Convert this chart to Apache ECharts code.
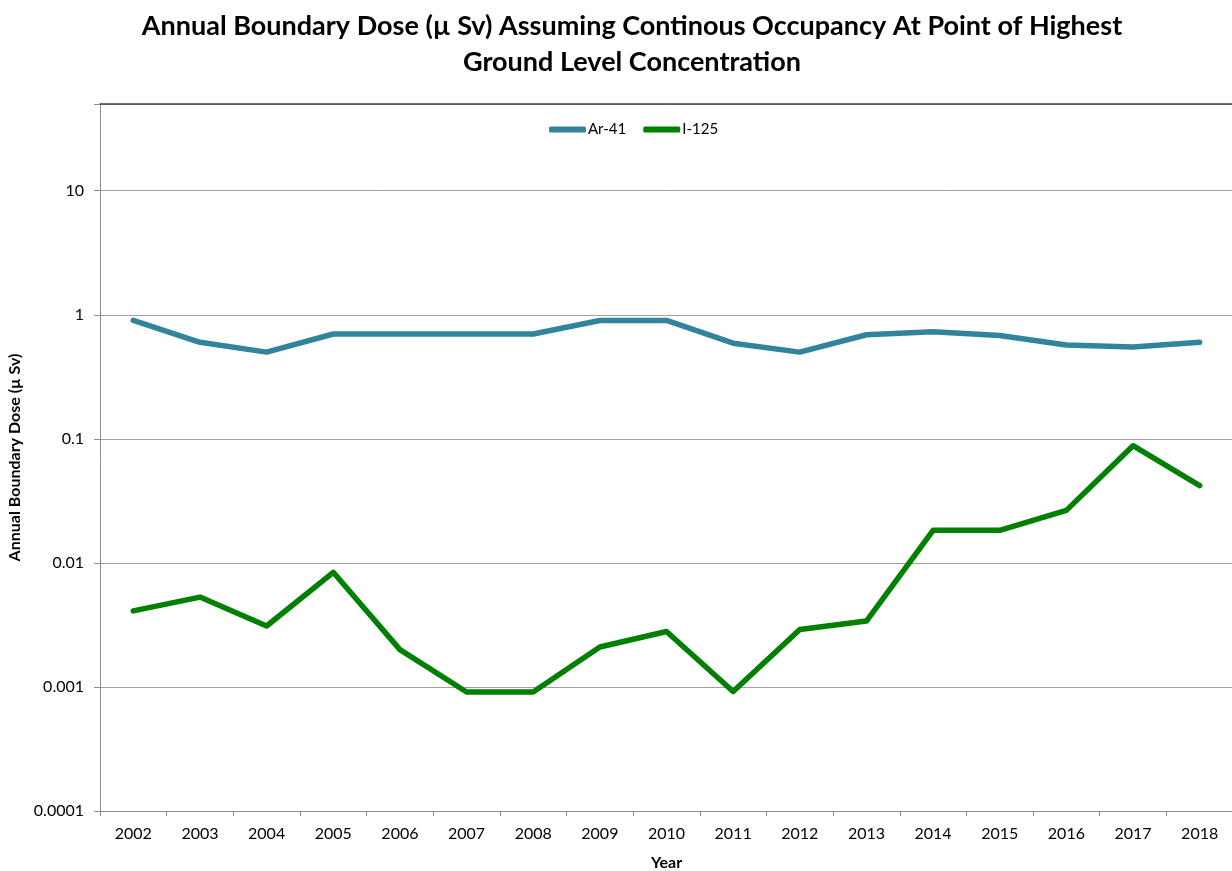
<!DOCTYPE html>
<html>
<head>
<meta charset="utf-8">
<script src="https://cdn.jsdelivr.net/npm/echarts@6/dist/echarts.min.js"></script>
<style>
html,body{margin:0;padding:0;background:#fff;}
#chart{width:1232px;height:871px;}
</style>
</head>
<body>
<div id="chart"></div>
<script>
const years = ['2002','2003','2004','2005','2006','2007','2008','2009','2010','2011','2012','2013','2014','2015','2016','2017','2018'];
const ar41 = [0.9,0.6,0.5,0.7,0.7,0.7,0.7,0.9,0.9,0.59,0.5,0.69,0.73,0.68,0.57,0.55,0.6];
const i125 = [0.0041,0.0053,0.0031,0.0084,0.002,0.00091,0.00091,0.0021,0.0028,0.00092,0.0029,0.0034,0.0183,0.0183,0.0265,0.088,0.042];
const yTickLabels = ['0.0001','0.001','0.01','0.1','1','10'];
const yMin = 0.0001;
const yMax = 50;

const FONT = 'Lato, "Open Sans", sans-serif';
const chart = echarts.init(document.getElementById('chart'));
chart.setOption({
  animation: false,
  backgroundColor: '#ffffff',
  title: {
    text: 'Annual Boundary Dose (\u00b5 Sv) Assuming Continous Occupancy At Point of Highest\nGround Level Concentration',
    left: 627,
    textAlign: 'center',
    top: 3,
    textStyle: {fontFamily: FONT, fontWeight: 'bold', fontSize: 27, color: '#000', lineHeight: 36}
  },
  legend: {
    top: 117,
    left: 544,
    icon: 'roundRect',
    itemWidth: 37,
    itemHeight: 6,
    itemGap: 17,
    data: ['Ar-41','I-125'],
    textStyle: {fontFamily: FONT, fontSize: 15, color: '#000', padding: [0,0,0,-3]}
  },
  grid: {left: 100, right: -1, top: 104, bottom: 60, containLabel: false, outerBoundsMode: 'none'},
  xAxis: [{
    type: 'category',
    data: years,
    boundaryGap: true,
    name: 'Year',
    nameLocation: 'middle',
    nameGap: 44,
    nameTextStyle: {fontFamily: FONT, fontWeight: 'bold', fontSize: 16, color: '#000'},
    axisLine: {lineStyle: {color: '#8c8c8c', width: 1}},
    axisTick: {show: true, length: 5, alignWithLabel: false, lineStyle: {color: '#8c8c8c'}},
    axisLabel: {fontFamily: FONT, fontSize: 16, color: '#000', margin: 15, interval: 0},
    splitLine: {show: false}
  }, {
    type: 'category',
    data: years,
    position: 'top',
    axisLine: {lineStyle: {color: '#404040', width: 1.5}},
    axisTick: {show: false},
    axisLabel: {show: false},
    splitLine: {show: false}
  }],
  yAxis: {
    type: 'log',
    logBase: 10,
    min: yMin,
    max: yMax,
    name: 'Annual Boundary Dose (\u00b5 Sv)',
    nameLocation: 'middle',
    nameGap: 72,
    nameTextStyle: {fontFamily: FONT, fontWeight: 'bold', fontSize: 16, color: '#000'},
    axisLine: {show: true, lineStyle: {color: '#8c8c8c', width: 1}},
    axisTick: {show: true, length: 6, lineStyle: {color: '#8c8c8c'}},
    axisLabel: {
      fontFamily: FONT, fontSize: 16, color: '#000', margin: 16,
      formatter: function (v) {
        const e = Math.log10(v);
        const r = Math.round(e);
        if (Math.abs(e - r) > 0.01) return '';
        const idx = r + 4;
        return yTickLabels[idx] !== undefined ? yTickLabels[idx] : '';
      }
    },
    splitLine: {show: true, lineStyle: {color: '#a0a0a0', width: 1}}
  },
  series: [{
    name: 'Ar-41',
    type: 'line',
    data: ar41,
    symbol: 'none',
    color: '#31849b',
    lineStyle: {color: '#31849b', width: 5.5, cap: 'round', join: 'round'}
  }, {
    name: 'I-125',
    type: 'line',
    data: i125,
    symbol: 'none',
    color: '#008000',
    lineStyle: {color: '#008000', width: 5.5, cap: 'round', join: 'round'}
  }]
});
</script>
</body>
</html>
